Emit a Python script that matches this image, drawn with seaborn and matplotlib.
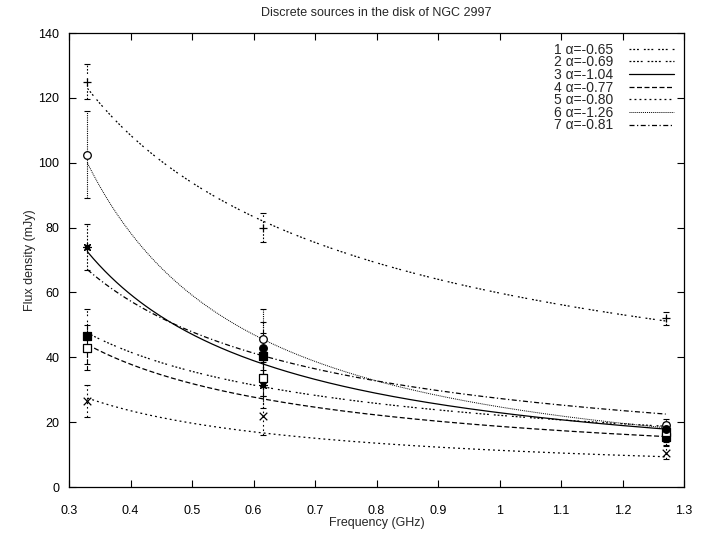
import numpy as np
import pandas as pd
import matplotlib
matplotlib.use("Agg")
import matplotlib.pyplot as plt
import seaborn as sns

# ---- data ----
freqs = [0.33, 0.615, 1.27]
labels = ["1 α=-0.65", "2 α=-0.69", "3 α=-1.04", "4 α=-0.77",
          "5 α=-0.80", "6 α=-1.26", "7 α=-0.81"]
alphas = [-0.65, -0.69, -1.04, -0.77, -0.80, -1.26, -0.81]
amp_1ghz = [59.8, 22.1, 22.9, 18.7, 11.3, 24.7, 27.3]   # fitted flux at 1 GHz (mJy)

flux_1 = [125.0, 80.0, 52.0]
err_1 = [5.5, 4.5, 2.0]
flux_2 = [46.5, 40.4, 15.5]
err_2 = [8.5, 7.0, 2.5]
flux_3 = [74.0, 31.4, 16.5]
err_3 = [7.0, 7.0, 2.5]
flux_4 = [43.0, 33.6, 17.0]
err_4 = [7.0, 5.5, 2.5]
flux_5 = [26.5, 22.0, 10.5]
err_5 = [5.0, 6.0, 2.0]
flux_6 = [102.5, 45.5, 19.0]
err_6 = [13.5, 9.5, 2.0]
flux_7 = [np.nan, 42.9, 18.0]
err_7 = [np.nan, 8.0, 2.0]

fluxes = [flux_1, flux_2, flux_3, flux_4, flux_5, flux_6, flux_7]
errs = [err_1, err_2, err_3, err_4, err_5, err_6, err_7]

# ---- styles ----
styles = [(0, (1.5, 1.5, 1.5, 1.5, 1.5, 4)),
          (0, (1.5, 1.5, 1.5, 1.5, 1.5, 1.5, 1.5, 4)),
          "-",
          (0, (4, 2)),
          (0, (1.5, 2.5)),
          (0, (1, 1)),
          (0, (4, 2, 1, 2))]
markers = ["+", "s", (8, 2, 0), "s", "x", "o", "o"]
filled = [True, True, True, False, True, False, True]
widths = [0.9, 0.9, 0.9, 0.9, 0.9, 0.7, 0.9]

sns.set_style("ticks")
plt.rcParams["font.family"] = ["Liberation Sans", "DejaVu Sans"]

fig = plt.figure(figsize=(7.03, 5.35), dpi=100)
ax = fig.add_axes([0.0982, 0.0897, 0.875, 0.8486])

grid = np.linspace(freqs[0], freqs[-1], 200)
for i in range(7):
    curve = pd.DataFrame({"freq": grid,
                          "flux": amp_1ghz[i] * grid ** alphas[i]})
    sns.lineplot(data=curve, x="freq", y="flux", ax=ax, color="black",
                 linestyle=styles[i], linewidth=widths[i], label=labels[i])

for i in range(7):
    pts = pd.DataFrame({"freq": freqs, "flux": fluxes[i], "err": errs[i]}).dropna()
    eb = ax.errorbar(pts["freq"], pts["flux"], yerr=pts["err"], fmt="none",
                     ecolor="black", elinewidth=0.8, capsize=2.5, capthick=0.8)
    for lc in eb[2]:
        lc.set_linestyle(styles[i] if i != 2 else (0, (1.5, 1.5)))
    m = markers[i]
    if m in ("+", "x") or isinstance(m, tuple):
        sns.scatterplot(data=pts, x="freq", y="flux", ax=ax, marker=m,
                        color="black", s=30, linewidth=0.9, zorder=5)
    else:
        sns.scatterplot(data=pts, x="freq", y="flux", ax=ax, marker=m,
                        facecolor="black" if filled[i] else "white",
                        edgecolor="black", s=26 if m == "s" else 30,
                        linewidth=0.9, zorder=5)

ax.set_xlim(0.3, 1.3)
ax.set_ylim(0, 140)
xt = [0.3, 0.4, 0.5, 0.6, 0.7, 0.8, 0.9, 1.0, 1.1, 1.2, 1.3]
ax.set_xticks(xt)
ax.set_xticklabels(["0.3", "0.4", "0.5", "0.6", "0.7", "0.8", "0.9", "1",
                    "1.1", "1.2", "1.3"])
ax.set_yticks(range(0, 141, 20))
ax.tick_params(direction="in", top=True, right=True, length=5, width=0.8,
               labelsize=9, colors="black")
ax.tick_params(axis="x", pad=13)
ax.tick_params(axis="y", pad=7)
for sp in ax.spines.values():
    sp.set_linewidth(0.9)
    sp.set_color("black")

ax.set_xlabel("Frequency (GHz)", fontsize=9, labelpad=0)
ax.set_ylabel("Flux density (mJy)", fontsize=9, labelpad=2)
ax.set_title("Discrete sources in the disk of NGC 2997", fontsize=9, pad=12)

leg = ax.legend(loc="upper right", frameon=False, markerfirst=False,
                handlelength=3.3, fontsize=10, labelspacing=-0.1,
                borderaxespad=0.3, handletextpad=1.1)
for t in leg.get_texts():
    t.set_ha("right")

fig.savefig("out.png", dpi=100)
